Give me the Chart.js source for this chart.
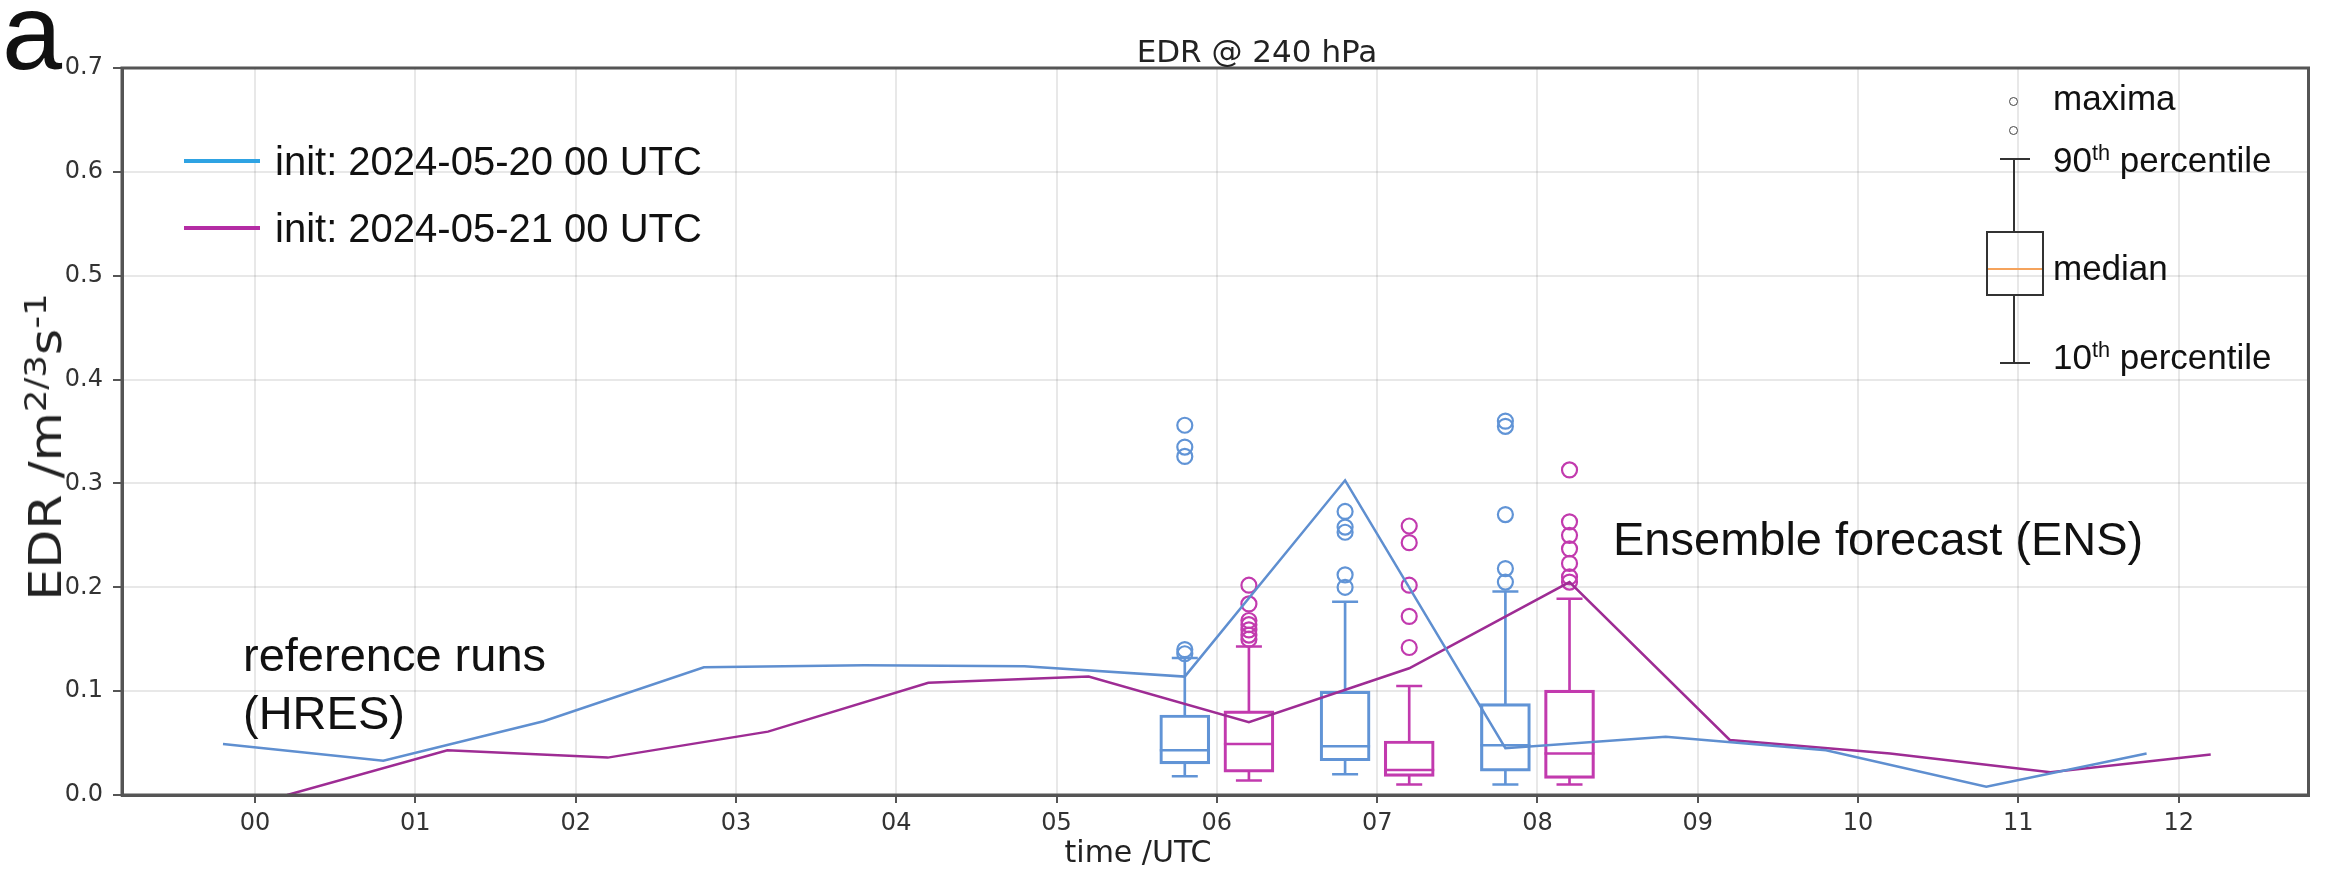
<!DOCTYPE html>
<html>
<head>
<meta charset="utf-8">
<script src="https://cdn.jsdelivr.net/npm/chart.js@4"></script>
<style>
  body { margin: 0; background: #fff; }
  #wrap { position: relative; width: 2336px; height: 874px; }
  .t { position: absolute; white-space: nowrap; line-height: 1; color: #111; }
  .sans { font-family: "Liberation Sans", Arial, sans-serif; }
  .dv { font-family: "DejaVu Sans", sans-serif; color: #222; }
  sup { font-size: 0.62em; vertical-align: 0.55em; line-height: 0; }
  .ylab sup { font-size: 0.7em; vertical-align: 0.5em; }
  .k { position: absolute; background: #333; }
</style>
</head>
<body>
<div id="wrap">
  <canvas id="grafico" width="2336" height="874"></canvas>

  <div class="t sans" style="left:2px; top:-22px; font-size:108px;">a</div>
  <div class="t dv" style="left:1257px; top:36px; font-size:31px; transform:translateX(-50%);">EDR @ 240 hPa</div>
  <div class="t dv" style="left:1138px; top:837px; font-size:30px; transform:translateX(-50%);">time /UTC</div>
  <div class="t dv ylab" style="left:46px; top:447px; font-size:44px; transform:translate(-50%,-50%) rotate(-90deg) scaleX(1.15);">EDR /m<sup>2/3</sup>s<sup>-1</sup></div>

  <!-- legend for the reference runs -->
  <div class="k" style="left:184px; top:159px; width:76px; height:4px; background:#2fa3e3;"></div>
  <div class="t sans" style="left:275px; top:141px; font-size:40px;">init: 2024-05-20 00 UTC</div>
  <div class="k" style="left:184px; top:226px; width:76px; height:4px; background:#b42ca4;"></div>
  <div class="t sans" style="left:275px; top:208px; font-size:40px;">init: 2024-05-21 00 UTC</div>

  <div class="t sans" style="left:243px; top:626px; font-size:47px; line-height:58px;">reference runs<br>(HRES)</div>
  <div class="t sans" style="left:1613px; top:515px; font-size:47px;">Ensemble forecast (ENS)</div>

  <!-- box plot key -->
  <div class="k" style="left:2009px; top:97px; width:7px; height:7px; border:1.5px solid #444; border-radius:50%; background:#fff;"></div>
  <div class="k" style="left:2009px; top:126px; width:7px; height:7px; border:1.5px solid #444; border-radius:50%; background:#fff;"></div>
  <div class="k" style="left:2000px; top:158px; width:30px; height:2px;"></div>
  <div class="k" style="left:2013px; top:158px; width:2px; height:73px;"></div>
  <div class="k" style="left:1986px; top:231px; width:54px; height:61px; border:2px solid #333; background:transparent;"></div>
  <div class="k" style="left:1988px; top:268px; width:54px; height:2px; background:#f5a35c;"></div>
  <div class="k" style="left:2013px; top:296px; width:2px; height:67px;"></div>
  <div class="k" style="left:2000px; top:362px; width:30px; height:2px;"></div>
  <div class="t sans" style="left:2053px; top:80px; font-size:35px;">maxima</div>
  <div class="t sans" style="left:2053px; top:142px; font-size:35px;">90<sup>th</sup> percentile</div>
  <div class="t sans" style="left:2053px; top:250px; font-size:35px;">median</div>
  <div class="t sans" style="left:2053px; top:339px; font-size:35px;">10<sup>th</sup> percentile</div>
</div>

<script>
// eixo do tempo (UTC)
const horas = [0, 1, 2, 3, 4, 5, 6, 7, 8, 9, 10, 11, 12];
const rotulos_horas = ['00', '01', '02', '03', '04', '05', '06', '07', '08', '09', '10', '11', '12'];
const x_min = -0.83;
const x_max = 12.81;

// reference runs (HRES)
const tempos_hres_20 = [-0.2, 0.8, 1.8, 2.8, 3.8, 4.8, 5.8, 6.8, 7.8, 8.8, 9.8, 10.8, 11.8];
const edr_hres_20 = [0.049, 0.033, 0.071, 0.123, 0.125, 0.124, 0.114, 0.303, 0.045, 0.056, 0.043, 0.008, 0.040];
const tempos_hres_21 = [0.2, 1.2, 2.2, 3.2, 4.2, 5.2, 6.2, 7.2, 8.2, 9.2, 10.2, 11.2, 12.2];
const edr_hres_21 = [0.000, 0.043, 0.036, 0.061, 0.108, 0.114, 0.070, 0.122, 0.205, 0.053, 0.040, 0.022, 0.039];

// ensemble (ENS) box plots
const tempos_ens_20 = [5.8, 6.8, 7.8];
const p10_ens_20 = [0.018, 0.020, 0.010];
const q1_ens_20 = [0.030, 0.033, 0.023];
const mediana_ens_20 = [0.043, 0.047, 0.048];
const q3_ens_20 = [0.077, 0.100, 0.088];
const p90_ens_20 = [0.132, 0.186, 0.196];
const maximos_ens_20 = [
    [0.136, 0.140, 0.326, 0.335, 0.356],
    [0.200, 0.212, 0.253, 0.258, 0.273],
    [0.205, 0.218, 0.270, 0.355, 0.360]
];

const tempos_ens_21 = [6.2, 7.2, 8.2];
const p10_ens_21 = [0.014, 0.010, 0.010];
const q1_ens_21 = [0.022, 0.018, 0.016];
const mediana_ens_21 = [0.049, 0.024, 0.040];
const q3_ens_21 = [0.081, 0.052, 0.101];
const p90_ens_21 = [0.143, 0.105, 0.189];
const maximos_ens_21 = [
    [0.150, 0.154, 0.159, 0.164, 0.168, 0.184, 0.202],
    [0.142, 0.172, 0.202, 0.243, 0.259],
    [0.205, 0.210, 0.223, 0.237, 0.250, 0.263, 0.313]
];

const azul_linha = '#5f8fd0';
const magenta_linha = '#9e2c94';
const azul_caixa = '#6194d6';
const magenta_caixa = '#c23aae';

const pontos = (xs, ys) => xs.map((x, i) => ({ x: x, y: ys[i] }));
const faixas = (xs, a, b) => xs.map((x, i) => ({ x: x, y: [a[i], b[i]] }));
const bigodes = (xs, p10, q1, q3, p90) => faixas(xs, p10, q1).concat(faixas(xs, q3, p90));
const tampas = (xs, p10, p90) => pontos(xs, p10).concat(pontos(xs, p90));
const maximos = (xs, lista) => xs.flatMap((x, i) => lista[i].map(v => ({ x: x, y: v })));

const moldura = {
    id: 'moldura',
    afterDraw: (chart) => {
        const { ctx, chartArea: a } = chart;
        ctx.save();
        ctx.strokeStyle = '#555';
        ctx.lineWidth = 3;
        ctx.strokeRect(a.left, a.top, a.right - a.left, a.bottom - a.top);
        ctx.restore();
    }
};

const fonte_ticks = { family: 'DejaVu Sans', size: 24 };
const grade = { offset: false, color: 'rgba(0,0,0,0.09)', lineWidth: 2, tickColor: '#555', tickWidth: 2 };

const grafico = new Chart(document.getElementById('grafico'), {
    type: 'bar',
    data: {
        datasets: [
            { type: 'line', data: pontos(tempos_hres_20, edr_hres_20), borderColor: azul_linha, borderWidth: 2.5, pointRadius: 0 },
            { type: 'line', data: pontos(tempos_hres_21, edr_hres_21), borderColor: magenta_linha, borderWidth: 2.5, pointRadius: 0 },
            { type: 'scatter', data: maximos(tempos_ens_20, maximos_ens_20), borderColor: azul_caixa, backgroundColor: 'rgba(0,0,0,0)', pointRadius: 7.5, borderWidth: 2.2 },
            { type: 'scatter', data: maximos(tempos_ens_21, maximos_ens_21), borderColor: magenta_caixa, backgroundColor: 'rgba(0,0,0,0)', pointRadius: 7.5, borderWidth: 2.2 },
            { type: 'scatter', data: pontos(tempos_ens_20, mediana_ens_20), pointStyle: 'line', pointRadius: 25, borderColor: azul_caixa, borderWidth: 2.5 },
            { type: 'scatter', data: pontos(tempos_ens_21, mediana_ens_21), pointStyle: 'line', pointRadius: 25, borderColor: magenta_caixa, borderWidth: 2.5 },
            { type: 'scatter', data: tampas(tempos_ens_20, p10_ens_20, p90_ens_20), pointStyle: 'line', pointRadius: 13, borderColor: azul_caixa, borderWidth: 2.5 },
            { type: 'scatter', data: tampas(tempos_ens_21, p10_ens_21, p90_ens_21), pointStyle: 'line', pointRadius: 13, borderColor: magenta_caixa, borderWidth: 2.5 },
            { data: bigodes(tempos_ens_20, p10_ens_20, q1_ens_20, q3_ens_20, p90_ens_20), backgroundColor: azul_caixa, barThickness: 2, grouped: false },
            { data: bigodes(tempos_ens_21, p10_ens_21, q1_ens_21, q3_ens_21, p90_ens_21), backgroundColor: magenta_caixa, barThickness: 2, grouped: false },
            { data: faixas(tempos_ens_20, q1_ens_20, q3_ens_20), backgroundColor: 'rgba(0,0,0,0)', borderColor: azul_caixa, borderWidth: 2.5, borderSkipped: false, barThickness: 50, grouped: false },
            { data: faixas(tempos_ens_21, q1_ens_21, q3_ens_21), backgroundColor: 'rgba(0,0,0,0)', borderColor: magenta_caixa, borderWidth: 2.5, borderSkipped: false, barThickness: 50, grouped: false }
        ]
    },
    options: {
        responsive: false,
        animation: false,
        events: [],
        layout: { padding: { top: 68, right: 16, left: 0, bottom: 0 } },
        plugins: {
            legend: { display: false },
            tooltip: { enabled: false }
        },
        scales: {
            x: {
                type: 'linear',
                min: x_min,
                max: x_max,
                offset: false,
                afterBuildTicks: (scale) => {
                    scale.ticks = horas.map(h => ({ value: h }));
                },
                afterFit: (scale) => {
                    scale.height = 79;
                },
                ticks: {
                    autoSkip: false,
                    maxRotation: 0,
                    padding: 6,
                    color: '#333',
                    font: fonte_ticks,
                    callback: (v) => rotulos_horas[horas.indexOf(v)]
                },
                grid: { ...grade, tickLength: 8 },
                border: { color: '#555', width: 3 }
            },
            y: {
                min: 0,
                max: 0.7,
                afterFit: (scale) => {
                    scale.width = 122;
                },
                ticks: {
                    stepSize: 0.1,
                    padding: 10,
                    color: '#333',
                    font: fonte_ticks,
                    callback: (v) => v.toFixed(1)
                },
                grid: { ...grade, tickLength: 9 },
                border: { color: '#555', width: 3 }
            }
        }
    },
    plugins: [moldura]
});
</script>
</body>
</html>
